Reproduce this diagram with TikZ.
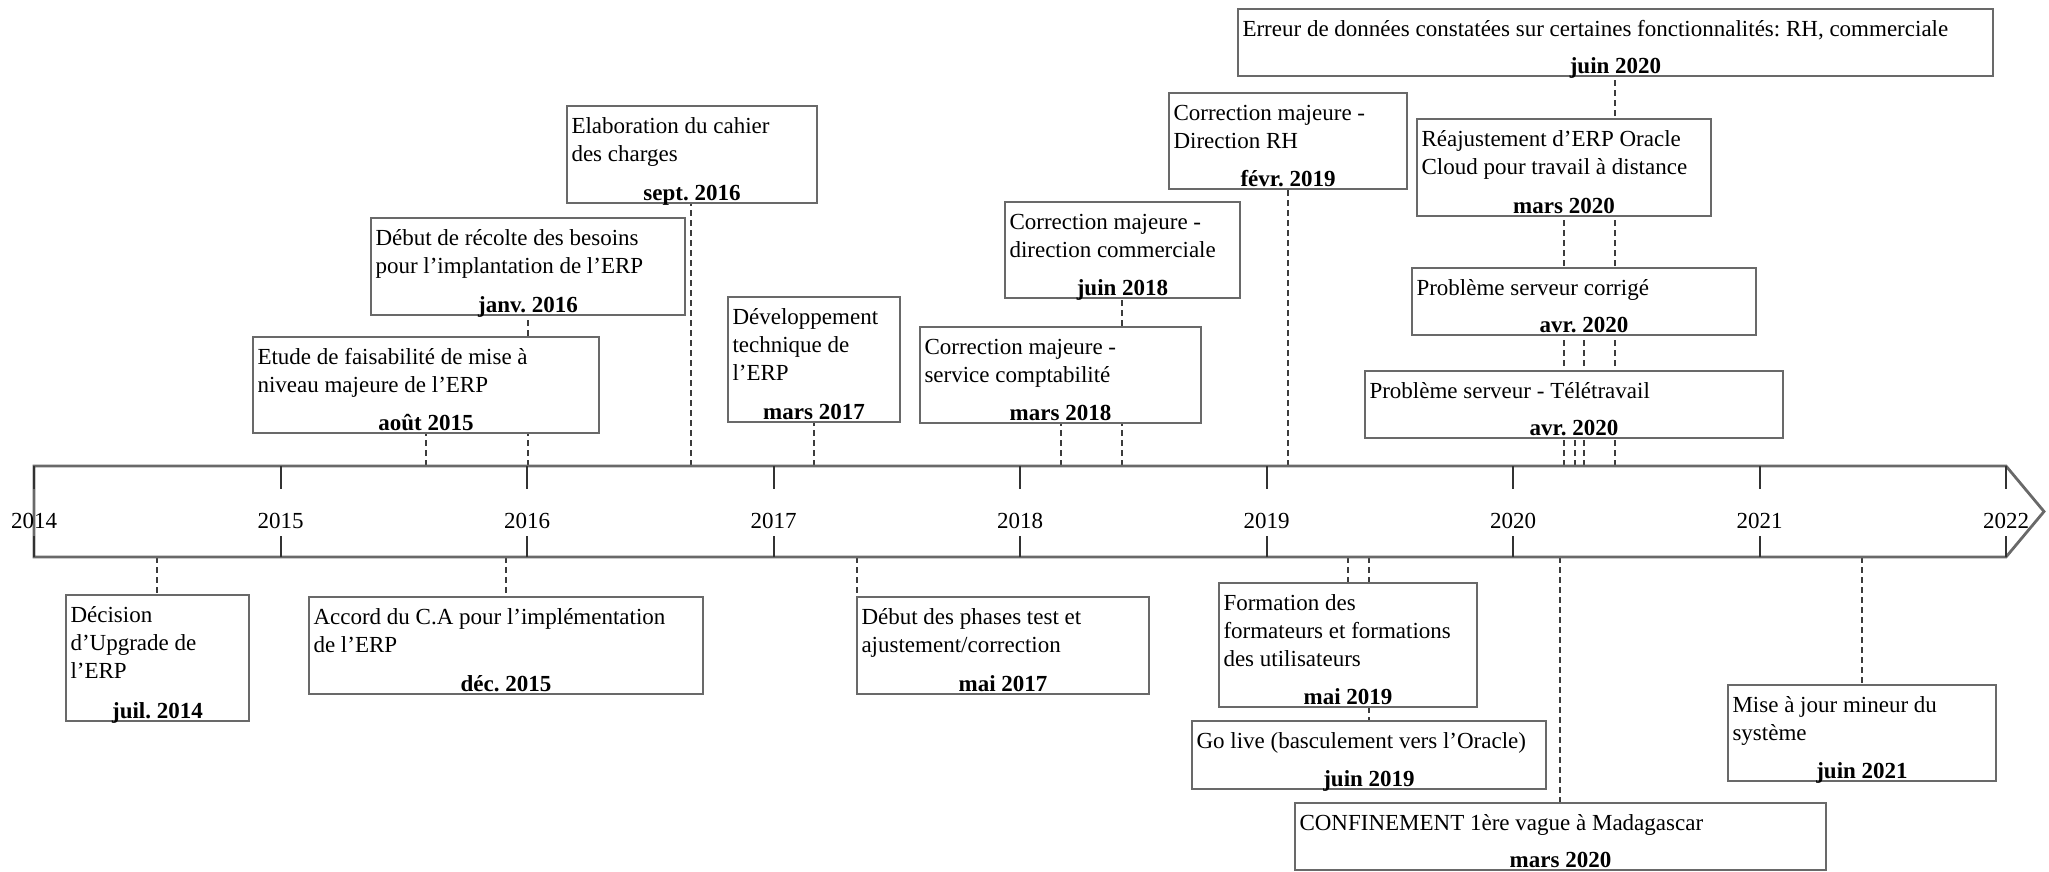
\documentclass[tikz,border=0pt]{standalone}
\usepackage{fontspec}
\setmainfont{Liberation Serif}
\usetikzlibrary{fit,calc}
\pgfdeclarelayer{bg}
\pgfsetlayers{bg,main}
\definecolor{boxgray}{RGB}{105,105,105}
\definecolor{dashgray}{RGB}{60,60,60}
\definecolor{tickgray}{RGB}{50,50,50}
\tikzset{
 evbox/.style={draw=boxgray, line width=1.4pt, fill=white, inner sep=0pt},
 txt/.style={inner sep=0pt, font=\fontsize{11.5}{14}\selectfont\frenchspacing, anchor=base west},
 datetxt/.style={inner sep=0pt, font=\fontsize{11.5}{14}\selectfont\bfseries\frenchspacing, anchor=base},
 conn/.style={draw=dashgray, line width=1pt, dash pattern=on 3pt off 2pt},
 yeartxt/.style={inner sep=0pt, font=\fontsize{11.5}{14}\selectfont, anchor=base},
 axisline/.style={draw=boxgray, line width=1.4pt, line join=miter},
 tickline/.style={draw=tickgray, line width=1pt},
}
\newcommand\ev[7]{%
 \node[evbox, fit={(#2,#3) (#4,#5)}] (#1) {};
 \foreach \l [count=\i] in {#6} {
   \node[txt] (#1-t\i) at ($(#1.north west)+(5.5,{29+28*(\i-1)})$) {\l};
 }
 \node[datetxt] (#1-d) at ($(#1.south)+(0,-4)$) {#7};
}
\begin{document}
\frenchspacing
\begin{tikzpicture}[x=0.5pt,y=-0.5pt]
\useasboundingbox (0,0) rectangle (2049,872);
% axis
\coordinate (axTL) at (34,466);
\coordinate (axTR) at (2006,466);
\coordinate (axTip) at (2044,511.5);
\coordinate (axBR) at (2006,557);
\coordinate (axBL) at (34,557);
\draw[axisline] (axTL) -- (axTR) -- (axTip) -- (axBR) -- (axBL) -- cycle;
\foreach \k [evaluate=\k as \yr using int(2014+\k)] in {0,...,8} {
  \draw[tickline] ({34+246.5*\k},466) -- ++(0,23);
  \draw[tickline] ({34+246.5*\k},557) -- ++(0,-21);
  \node[yeartxt] (y\k) at ({34+246.5*\k},528) {\yr};
}
% top events
\ev{A}{567}{106}{817}{203}{Elaboration du cahier,des charges}{sept. 2016}
\ev{B}{371}{218}{685}{315}{Début de récolte des besoins,pour l’implantation de l’ERP}{janv. 2016}
\ev{C}{253}{337}{599}{433}{Etude de faisabilité de mise à,niveau majeure de l'ERP}{août 2015}
\ev{D}{728}{297}{900}{422}{Développement,technique de,l'ERP}{mars 2017}
\ev{E}{920}{327}{1201}{423}{Correction majeure -,service comptabilité}{mars 2018}
\ev{F}{1005}{202}{1240}{298}{Correction majeure -,direction commerciale}{juin 2018}
\ev{G}{1169}{93}{1407}{189}{Correction majeure -,Direction RH}{févr. 2019}
\ev{H}{1238}{9}{1993}{76}{{Erreur de données constatées sur certaines fonctionnalités: RH, commerciale}}{juin 2020}
\ev{I}{1417}{119}{1711}{216}{Réajustement d'ERP Oracle,Cloud pour travail à distance}{mars 2020}
\ev{J}{1412}{268}{1756}{335}{Problème serveur corrigé}{avr. 2020}
\ev{K}{1365}{371}{1783}{438}{Problème serveur - Télétravail}{avr. 2020}
% bottom events
\ev{L}{66}{595}{249}{721}{Décision,d’Upgrade de,l’ERP}{juil. 2014}
\ev{M}{309}{597}{703}{694}{Accord du C.A pour l'implémentation,de l'ERP}{déc. 2015}
\ev{N}{857}{597}{1149}{694}{Début des phases test et,{ajustement/correction}}{mai 2017}
\ev{O}{1219}{583}{1477}{707}{Formation des,formateurs et formations,des utilisateurs}{mai 2019}
\ev{P}{1192}{721}{1546}{789}{Go live (basculement vers l'Oracle)}{juin 2019}
\ev{Q}{1295}{803}{1826}{870}{CONFINEMENT 1ère vague à Madagascar}{mars 2020}
\ev{R}{1728}{685}{1996}{781}{Mise à jour mineur du,système}{juin 2021}
% connectors
\begin{pgfonlayer}{bg}
\foreach \n/\cx in {A/691,B/528,C/426,D/814,E/1061,F/1122,G/1288,H/1615,I/1564,J/1584,K/1575} {
  \coordinate (c\n) at (\cx,466);
  \draw[conn] (c\n) -- (c\n |- \n.south);
}
\foreach \n/\cx in {L/157,M/506,N/857,O/1348,P/1369,Q/1560,R/1862} {
  \coordinate (c\n) at (\cx,557);
  \draw[conn] (c\n) -- (c\n |- \n.north);
}
\end{pgfonlayer}
\end{tikzpicture}
\end{document}
